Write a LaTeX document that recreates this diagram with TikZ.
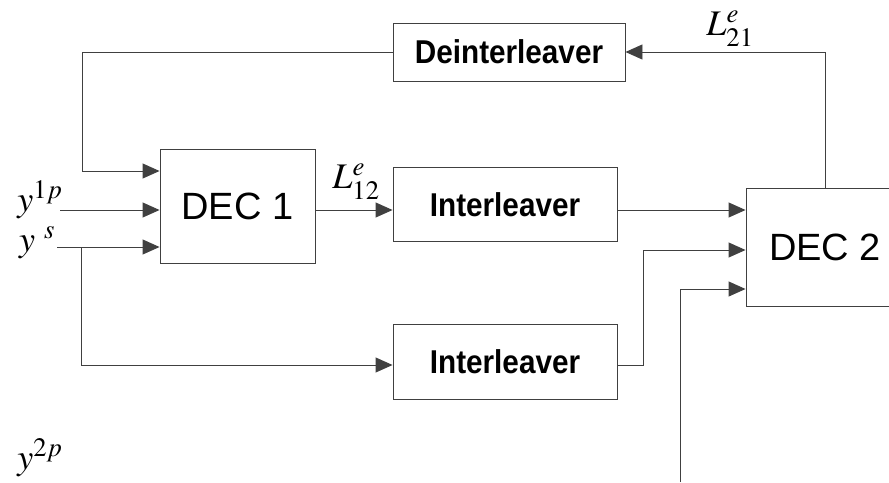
\documentclass[tikz,border=0pt]{standalone}
\usepackage{mathptmx}
\usepackage{fontspec}
\setmainfont{Liberation Sans}
\newfontfamily\condsans[FakeStretch=0.9]{Liberation Sans}
\usetikzlibrary{arrows.meta}
\tikzset{
  wire/.style={draw=black!75, line width=0.9pt},
  arr/.style={wire, -{Triangle[length=17pt,width=15pt]}},
  blockbox/.style={draw=black!75, line width=0.9pt, inner sep=0pt, fill=white},
  smalltext/.style={font=\condsans\fontsize{33}{33}\selectfont\bfseries},
  bigtext/.style={font=\fontsize{38}{38}\selectfont},
  lbl/.style={inner sep=0pt, font=\fontsize{36}{36}\selectfont}
}
\begin{document}
\begin{tikzpicture}[x=1pt, y=-1pt]
\useasboundingbox (0,0) rectangle (889,482);

% blocks
\node[blockbox, smalltext, minimum width=232pt, minimum height=58pt] (deint) at (509,52) {Deinterleaver};
\node[blockbox, bigtext, minimum width=155pt, minimum height=114pt] (dec1) at (237.5,206) {DEC 1};
\node[blockbox, smalltext, minimum width=224pt, minimum height=74pt] (int1) at (505,204.5) {Interleaver};
\node[blockbox, smalltext, minimum width=224pt, minimum height=75pt] (int2) at (505,361.5) {Interleaver};
\node[blockbox, bigtext, minimum width=158pt, minimum height=118pt] (dec2) at (825,247) {DEC 2};

% row levels and free ends
\coordinate (r2) at (0,210);
\coordinate (r4) at (0,365);
\coordinate (r6) at (0,289);
\coordinate (fbx) at (82,171);
\coordinate (y1in) at (60,210);
\coordinate (ysin) at (57,247);
\coordinate (ysbr) at (81,247);
\coordinate (y2in) at (680,482);
\coordinate (up2) at (643,250);

% connectors
\draw[arr] (deint.west) -| (fbx) -- (dec1.west |- fbx);
\draw[arr] (y1in) -- (dec1.west |- y1in);
\draw[arr] (ysin) -- (dec1.west |- ysin);
\draw[arr] (ysbr) |- (int2.west |- r4);
\draw[arr] (dec1.east |- r2) -- (int1.west |- r2);
\draw[arr] (int1.east |- r2) -- (dec2.west |- r2);
\draw[arr] (int2.east |- r4) -| (up2) -- (dec2.west |- up2);
\draw[arr] (y2in) |- (dec2.west |- r6);
\draw[arr] (dec2.north) |- (deint.east);

% labels
\node[lbl] (l12) at (356,182) {$L^{e}_{12}$};
\node[lbl] (l21) at (730,29) {$L^{e}_{21}$};
\node[lbl] (y1p) at (40,200) {$y^{1p}$};
\node[lbl] (ys) at (37,243) {$y^{\;\,s}$};
\node[lbl] (y2p) at (40,458) {$y^{2p}$};
\end{tikzpicture}
\end{document}
